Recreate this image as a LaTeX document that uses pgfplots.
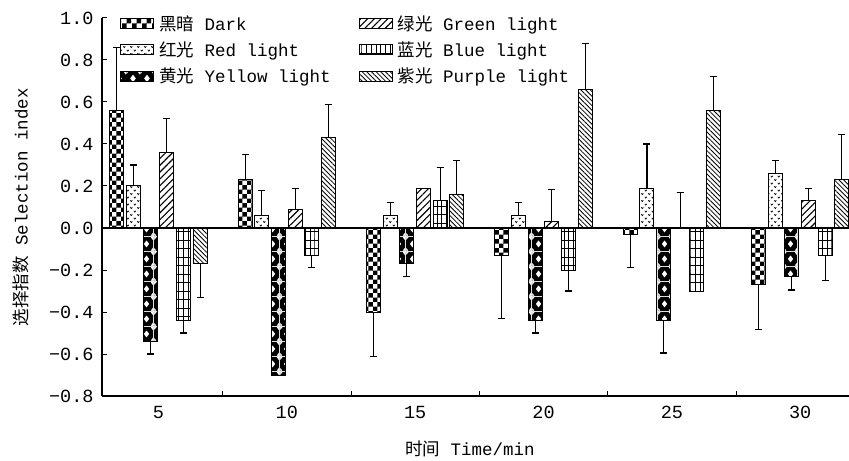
\documentclass[border=0pt]{standalone}
\usepackage{pgfplots}
\pgfplotsset{compat=1.18}
\usetikzlibrary{patterns,patterns.meta}
\usepackage{fontspec}
\setmainfont{Liberation Mono}
\newfontfamily\cjk{Noto Sans CJK SC}

\pgfdeclarepatternformonly{mychecker}{\pgfpointorigin}{\pgfqpoint{9.4bp}{9.4bp}}{\pgfqpoint{9.4bp}{9.4bp}}{%
  \pgfpathrectangle{\pgfpointorigin}{\pgfqpoint{4.75bp}{4.75bp}}%
  \pgfpathrectangle{\pgfqpoint{4.7bp}{4.7bp}}{\pgfqpoint{4.75bp}{4.75bp}}%
  \pgfusepath{fill}}
\pgfdeclarepatternformonly{mygrid}{\pgfqpoint{-0.6bp}{-0.6bp}}{\pgfqpoint{5.3bp}{9.1bp}}{\pgfqpoint{4.7bp}{8.5bp}}{%
  \pgfsetlinewidth{0.9bp}%
  \pgfpathmoveto{\pgfqpoint{0bp}{-0.6bp}}\pgfpathlineto{\pgfqpoint{0bp}{9.1bp}}%
  \pgfpathmoveto{\pgfqpoint{-0.6bp}{0bp}}\pgfpathlineto{\pgfqpoint{5.3bp}{0bp}}%
  \pgfusepath{stroke}}
\pgfdeclarepatternformonly{mydiamond}{\pgfpointorigin}{\pgfqpoint{14bp}{15bp}}{\pgfqpoint{14bp}{15bp}}{%
  \pgfpathrectangle{\pgfpointorigin}{\pgfqpoint{14bp}{15bp}}%
  \pgfpathmoveto{\pgfqpoint{4bp}{7.5bp}}\pgfpathlineto{\pgfqpoint{7bp}{11.5bp}}\pgfpathlineto{\pgfqpoint{10bp}{7.5bp}}\pgfpathlineto{\pgfqpoint{7bp}{3.5bp}}\pgfpathclose
  \pgfpathmoveto{\pgfqpoint{0bp}{0bp}}\pgfpathlineto{\pgfqpoint{3bp}{0bp}}\pgfpathlineto{\pgfqpoint{0bp}{4bp}}\pgfpathclose
  \pgfpathmoveto{\pgfqpoint{14bp}{0bp}}\pgfpathlineto{\pgfqpoint{11bp}{0bp}}\pgfpathlineto{\pgfqpoint{14bp}{4bp}}\pgfpathclose
  \pgfpathmoveto{\pgfqpoint{0bp}{15bp}}\pgfpathlineto{\pgfqpoint{3bp}{15bp}}\pgfpathlineto{\pgfqpoint{0bp}{11bp}}\pgfpathclose
  \pgfpathmoveto{\pgfqpoint{14bp}{15bp}}\pgfpathlineto{\pgfqpoint{11bp}{15bp}}\pgfpathlineto{\pgfqpoint{14bp}{11bp}}\pgfpathclose
  \pgfseteorule\pgfusepath{fill}}
\pgfdeclarepatternformonly{myvees}{\pgfqpoint{-1bp}{-1bp}}{\pgfqpoint{8bp}{8bp}}{\pgfqpoint{7bp}{7bp}}{%
  \pgfsetlinewidth{0.7bp}%
  \pgfpathmoveto{\pgfqpoint{0.8bp}{5.2bp}}\pgfpathlineto{\pgfqpoint{1.8bp}{3.9bp}}\pgfpathlineto{\pgfqpoint{2.8bp}{5.2bp}}%
  \pgfpathmoveto{\pgfqpoint{4.3bp}{1.7bp}}\pgfpathlineto{\pgfqpoint{5.3bp}{0.4bp}}\pgfpathlineto{\pgfqpoint{6.3bp}{1.7bp}}%
  \pgfusepath{stroke}}

\begin{document}
\begin{tikzpicture}
\begin{axis}[
  at={(0,0)}, anchor=south west,
  scale only axis, width=747bp, height=378bp,
  xmin=-0.44, xmax=5.38, ymin=-0.8, ymax=1.0,
  axis x line*=bottom, axis y line*=left,
  axis line style={-, line width=1.1bp},
  tick align=inside, major tick length=5bp,
  tick style={black, line width=1bp},
  ytick={-0.8,-0.6,-0.4,-0.2,0,0.2,0.4,0.6,0.8,1.0},
  yticklabels={−0.8,−0.6,−0.4,−0.2,0.0,0.2,0.4,0.6,0.8,1.0},
  xtick={0.5,1.5,2.5,3.5,4.5}, xticklabels={},
  extra x ticks={0,1,2,3,4,5},
  extra x tick labels={5,10,15,20,25,30},
  extra x tick style={major tick length=0pt},
  extra y ticks={0}, extra y tick labels={},
  extra y tick style={grid=major, major grid style={black, line width=1.1bp}},
  ticklabel style={font=\fontsize{18.5bp}{20bp}\selectfont},
  xticklabel style={yshift=-7bp},
  yticklabel style={xshift=-5bp},
  xlabel={{\cjk 时间} Time/min},
  ylabel={{\cjk 选择指数} Selection index},
  every axis x label/.style={at={(axis description cs:0.4926,-0.14)}, anchor=center, font=\fontsize{17.5bp}{20bp}\selectfont},
  every axis y label/.style={at={(axis description cs:-0.1084,0.5)}, rotate=90, anchor=center, font=\fontsize{17.5bp}{20bp}\selectfont},
  legend columns=2,
  legend cell align=left,
  legend style={at={(axis description cs:0.024,1.012)}, anchor=north west,
    draw=none, fill=none, font=\fontsize{17.5bp}{19bp}\selectfont,
    row sep=6bp, inner sep=0pt,
    /tikz/every odd column/.append style={column sep=3bp},
    /tikz/every even column/.append style={column sep=26bp}},
  legend image code/.code={\draw[#1, line width=1bp] (0bp,-5bp) rectangle (33bp,5bp);},
  error bars/y dir=both, error bars/y explicit,
  error bars/error bar style={line width=1.1bp, black},
  error bars/error mark options={rotate=90, mark size=3.5bp, line width=1.1bp, black},
  bar width=0.109,
]
% Dark
\addplot[ybar, bar shift=0pt, draw=black, line width=1bp, pattern=mychecker] coordinates {
  (-0.324,0.56) += (0,0.30)
  (0.676,0.23) += (0,0.12)
  (1.676,-0.40) -= (0,0.21)
  (2.676,-0.13) -= (0,0.30)
  (3.676,-0.03) -= (0,0.16)
  (4.676,-0.27) -= (0,0.215)
};
\addlegendentry{{\cjk 黑暗} Dark}
% Green
\addplot[ybar, bar shift=0pt, draw=black, line width=1bp, pattern={Lines[angle=45,distance=4.8bp,line width=1.1bp]}] coordinates {
  (0.065,0.36) += (0,0.16)
  (1.065,0.09) += (0,0.10)
  (2.065,0.19)
  (3.065,0.03) += (0,0.155)
  (4.065,0) += (0,0.17)
  (5.065,0.13) += (0,0.06)
};
\addlegendentry{{\cjk 绿光} Green light}
% Red
\addplot[ybar, bar shift=0pt, draw=black, line width=1bp, pattern=myvees] coordinates {
  (-0.194,0.20) += (0,0.10)
  (0.806,0.06) += (0,0.12)
  (1.806,0.06) += (0,0.06)
  (2.806,0.06) += (0,0.06)
  (3.806,0.19) += (0,0.21)
  (4.806,0.26) += (0,0.06)
};
\addlegendentry{{\cjk 红光} Red light}
% Blue
\addplot[ybar, bar shift=0pt, draw=black, line width=1bp, pattern=mygrid] coordinates {
  (0.194,-0.44) -= (0,0.06)
  (1.194,-0.13) -= (0,0.06)
  (2.194,0.13) += (0,0.16)
  (3.194,-0.20) -= (0,0.10)
  (4.194,-0.30)
  (5.194,-0.13) -= (0,0.12)
};
\addlegendentry{{\cjk 蓝光} Blue light}
% Yellow
\addplot[ybar, bar shift=0pt, draw=black, line width=1bp, pattern=mydiamond] coordinates {
  (-0.065,-0.54) -= (0,0.06)
  (0.935,-0.70)
  (1.935,-0.17) -= (0,0.06)
  (2.935,-0.44) -= (0,0.06)
  (3.935,-0.44) -= (0,0.155)
  (4.935,-0.23) -= (0,0.065)
};
\addlegendentry{{\cjk 黄光} Yellow light}
% Purple
\addplot[ybar, bar shift=0pt, draw=black, line width=1bp, pattern={Lines[angle=-45,distance=3.3bp,line width=0.8bp]}] coordinates {
  (0.324,-0.17) -= (0,0.16)
  (1.324,0.43) += (0,0.16)
  (2.324,0.16) += (0,0.16)
  (3.324,0.66) += (0,0.22)
  (4.324,0.56) += (0,0.16)
  (5.324,0.23) += (0,0.215)
};
\addlegendentry{{\cjk 紫光} Purple light}
\end{axis}
\pgfresetboundingbox
\path (-102bp,-65bp) rectangle (747bp,396bp);
\end{tikzpicture}
\end{document}
